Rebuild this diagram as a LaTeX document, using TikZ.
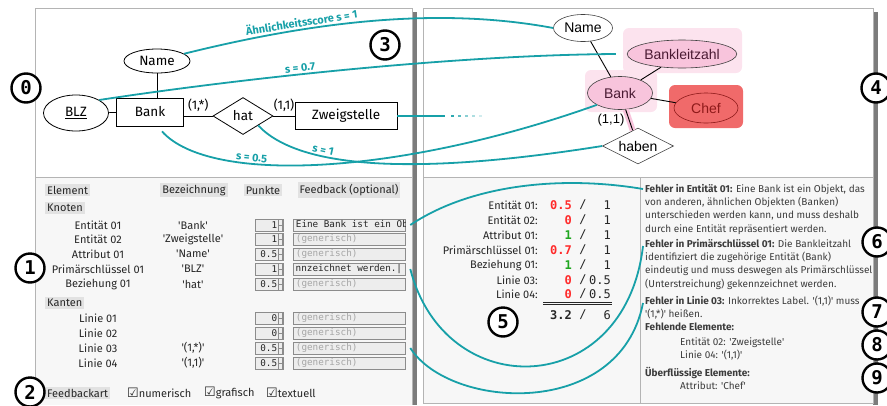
\documentclass[tikz,border=0pt]{standalone}
\usepackage{fontspec}
\setmainfont{Fira Sans}
\setmonofont{DejaVu Sans Mono}
\newfontfamily\arialfont{Liberation Sans}
\newfontfamily\symfont{DejaVu Sans}
\usetikzlibrary{shapes.geometric,positioning}
\definecolor{simteal}{HTML}{17A0A8}
\definecolor{panelgray}{HTML}{B4B4B4}
\definecolor{shadowgray}{HTML}{7C7C7C}
\definecolor{paper}{HTML}{F7F7F7}
\definecolor{hdrgray}{HTML}{E2E2E2}
\definecolor{boxfill}{HTML}{EDEDED}
\definecolor{boxedge}{HTML}{8C8C8C}
\definecolor{gentext}{HTML}{A6A6A6}
\definecolor{textgray}{HTML}{262626}
\definecolor{scorered}{HTML}{FF2B2B}
\definecolor{scoregreen}{HTML}{1FA61F}
\definecolor{pinkfill}{HTML}{F8C4DC}
\definecolor{pinkglow}{HTML}{FCE3EE}
\definecolor{pinktext}{HTML}{4A1A33}
\definecolor{chefred}{HTML}{F06A6A}
\definecolor{chefdark}{HTML}{8E1A1A}
\newcommand{\sq}[1]{\textquotesingle#1\textquotesingle}

\begin{document}
\begin{tikzpicture}[x=1pt,y=-1pt,text=textgray,font=\fontsize{11}{13}\selectfont,
panel/.style={draw=panelgray,line width=.8pt},
ent/.style={draw=black,rectangle,line width=.8pt,minimum height=28,inner sep=3pt,text=black,font=\fontsize{13.5}{15}\selectfont},
attr/.style={draw=black,ellipse,line width=.8pt,inner sep=1pt,text=black,font=\fontsize{13.5}{15}\selectfont},
rel/.style={draw=black,diamond,aspect=1.6,line width=.8pt,inner sep=1pt,text=black,font=\fontsize{13.5}{15}\selectfont},
attrb/.style={draw=black!75,ellipse,line width=.6pt,inner sep=1pt,text=pinktext,font=\arialfont\fontsize{14}{16}\selectfont},
glow/.style={fill=pinkglow,rounded corners=6pt,inner sep=0pt},
sim/.style={draw=simteal,line width=1.8pt},
simlabel/.style={text=simteal,font=\bfseries\fontsize{11}{12}\selectfont,sloped,inner sep=1.5pt},
hdr/.style={fill=hdrgray,inner sep=2pt},
inbox/.style={draw=boxedge,fill=boxfill,line width=.6pt,inner sep=0pt,minimum height=12},
mono/.style={font=\ttfamily\fontsize{9.3}{11}\selectfont,inner sep=1pt},
score/.style={font=\ttfamily\fontsize{12}{14}\selectfont,inner sep=0pt},
txt/.style={anchor=north west,align=left,inner sep=0pt,text=textgray!90,font=\fontsize{10}{13.3}\selectfont},
badge/.style={circle,draw=black,fill=white,line width=2.4pt,minimum size=29,inner sep=0pt,text=black,font=\ttfamily\bfseries\fontsize{19}{19}\selectfont}]
\useasboundingbox (0,0) rectangle (887,405);
% panels
\fill[shadowgray] (412,12) rectangle (417,405);
\fill[shadowgray] (873,12) rectangle (878,405);
\fill[paper] (35,177) rectangle (412,405);
\fill[paper] (423,177) rectangle (873,403);
\draw[panel] (35,405) -- (35,8) -- (412,8) -- (412,405);
\draw[panel] (35,177) -- (412,177);
\draw[panel] (423,8) rectangle (873,403);
\draw[panel] (423,177) -- (873,177) (640,177) -- (640,403);
% student diagram
\node[attr,minimum width=66,minimum height=24] (name) at (157,61) {Name};
\node[attr,minimum width=65,minimum height=36] (blz) at (76,113) {\underline{BLZ}};
\node[ent,minimum width=67] (bank) at (150,112) {Bank};
\node[rel,minimum width=60,minimum height=37] (hat) at (243,116) {hat};
\node[ent,minimum width=102,minimum height=27] (zw) at (346,116) {Zweigstelle};
\draw[line width=.6pt] (name.south) -- (name.south |- bank.north);
\draw[line width=.6pt] (blz) -- (bank);
\draw[line width=.6pt] (hat.west) -- node[above=1pt,text=black,font=\fontsize{12.5}{14}\selectfont] {(1,*)} (hat.west -| bank.east);
\draw[line width=.6pt] (hat.east) -- node[above=1pt,text=black,font=\fontsize{12.5}{14}\selectfont] {(1,1)} (zw.west);
% sample solution
\node[glow,minimum width=119,minimum height=45] (blzglow) at (682.5,50.5) {};
\node[glow,minimum width=72,minimum height=42] (bankglow) at (621,91) {};
\node[fill=chefred,rounded corners=6pt,minimum width=74,minimum height=43] (chefbg) at (706,106.5) {};
\node[attrb,fill=white,text=black,minimum width=59,minimum height=27] (name2) at (583,28) {Name};
\node[attrb,fill=pinkfill,minimum width=108,minimum height=28] (blz2) at (682,54) {Bankleitzahl};
\node[attrb,fill=pinkfill,minimum width=65,minimum height=33] (bank2) at (620,93) {Bank};
\node[attrb,draw=chefdark,text=chefdark,minimum width=64,minimum height=30] (chef) at (706,108) {Chef};
\node[attrb,diamond,aspect=2,text=black,fill=white,minimum width=71,minimum height=36] (haben) at (638,146) {haben};
\draw[line width=.9pt] (name2) -- (bank2);
\draw[line width=.9pt] (blz2) -- (bank2);
\draw[line width=.9pt] (bank2) -- (chef);
\draw[pinkfill,line width=6pt] (bank2) -- (haben);
\draw[line width=.9pt] (bank2) -- node[left=1pt,font=\arialfont\fontsize{13}{15}\selectfont,text=black] {(1,1)} (haben);
% similarity links
\draw[sim] (name.15) .. controls (300,25) and (430,5) .. (name2.west) node[simlabel,pos=.33,above] {Ähnlichkeitsscore s = 1};
\draw[sim] (blz.north east) .. controls (230,80) and (450,55) .. ([xshift=-11pt]blz2.west) node[simlabel,pos=.42,above] {s = 0.7};
\draw[sim] ([xshift=12pt,yshift=-5pt]bank.south) .. controls (210,185) and (400,175) .. (bank2.south west) node[simlabel,pos=.33,above] {s = 0.5};
\draw[sim] (hat.south east) .. controls (300,170) and (420,175) .. (haben.west) node[simlabel,pos=.32,above] {s = 1};
\draw[sim] (zw.east) -- ++(48,0) coordinate (zwend);
\foreach \d/\o in {6/.9,13/.7,20/.5,27/.35,34/.2}{\draw[sim,opacity=\o] ([xshift=\d]zwend) -- ++(2.5,0);}
% rating table
\node[hdr,anchor=west] (hElem) at (45,190) {Element};
\node[hdr] (hBez) at (194,190) {Bezeichnung};
\node[hdr] (hPkt) at (263,190) {Punkte};
\node[hdr] (hFb) at (349,190) {Feedback (optional)};
\node[hdr,anchor=west] (hKnoten) at (45,208) {Knoten};
\node[hdr,anchor=west] (hKanten) at (45,303) {Kanten};
\foreach \i/\el/\bez/\pt/\y in {1/Entität 01/\sq{Bank}/1/225,2/Entität 02/\sq{Zweigstelle}/1/239,3/Attribut 01/\sq{Name}/0.5/254,4/Primärschlüssel 01/\sq{BLZ}/1/269,5/Beziehung 01/\sq{hat}/0.5/284,6/Linie 01//0/318,7/Linie 02//0/333,8/Linie 03/{\sq{(1,*)}}/0.5/348,9/Linie 04/{\sq{(1,1)}}/0.5/363}{
\node (el\i) at (98,\y) {\el};
\node (bez\i) at (193,\y) {\bez};
\node[inbox,minimum width=28] (pt\i) at (269,\y) {};
\node[inbox,minimum width=112] (fb\i) at (349,\y) {};
\node[mono,anchor=east] at ([xshift=-5pt]pt\i.east) {\pt};
\draw[boxedge,line width=.4pt] ([xshift=-5pt]pt\i.north east) rectangle ([xshift=-1pt]pt\i.south east) ([xshift=-5pt]pt\i.east) -- ([xshift=-1pt]pt\i.east);
}
\foreach \i in {2,3,5,6,7,8,9}{\node[mono,text=gentext,anchor=west] at ([xshift=2pt]fb\i.west) {(generisch)};}
\begin{scope}
\clip (fb1.south west) rectangle (fb1.north east);
\node[mono,anchor=west] at ([xshift=2pt]fb1.west) {Eine Bank ist ein Objekt};
\end{scope}
\node[mono,anchor=east] at ([xshift=-2pt]fb4.east) {nnzeichnet werden.|};
\node[hdr,anchor=west] (hArt) at (45,393) {Feedbackart};
\node[anchor=west,inner sep=0pt] (cb1) at (127,393) {{\symfont\fontsize{13}{13}\selectfont ☑}numerisch};
\node[anchor=west,inner sep=0pt] (cb2) at (204,393) {{\symfont\fontsize{13}{13}\selectfont ☑}grafisch};
\node[anchor=west,inner sep=0pt] (cb3) at (266,393) {{\symfont\fontsize{13}{13}\selectfont ☑}textuell};
% scores
\foreach \i/\el/\sc/\col/\mx/\y in {1/Entität 01/0.5/scorered/1/205,2/Entität 02/0/scorered/1/220,3/Attribut 01/1/scoregreen/1/235,4/Primärschlüssel 01/0.7/scorered/1/250,5/Beziehung 01/1/scoregreen/1/265,6/Linie 03/0/scorered/0.5/280,7/Linie 04/0/scorered/0.5/294}{
\node[anchor=east,inner sep=0pt] (sl\i) at (538,\y) {\el:};
\node[score,anchor=east,text=\col,font=\ttfamily\bfseries\fontsize{12}{14}\selectfont] (sc\i) at (572,\y) {\sc};
\node[score] (sd\i) at (583,\y) {/};
\node[score,anchor=east] (sm\i) at (611,\y) {\mx};
}
\draw[textgray,line width=.6pt] (543,302) -- (612,302) (543,304.5) -- (612,304.5);
\node[score,anchor=east,font=\ttfamily\bfseries\fontsize{12}{14}\selectfont] (tot) at (572,315) {3.2};
\node[score] (totd) at (583,315) {/};
\node[score,anchor=east] (totm) at (611,315) {6};
% feedback texts
\node[txt] (err1) at (645,184) {\textbf{Fehler in Entität 01:} Eine Bank ist ein Objekt, das\\von anderen, ähnlichen Objekten (Banken)\\unterschieden werden kann, und muss deshalb\\durch eine Entität repräsentiert werden.};
\node[txt] (err2) at (645,239) {\textbf{Fehler in Primärschlüssel 01:} Die Bankleitzahl\\identifiziert die zugehörige Entität (Bank)\\eindeutig und muss deswegen als Primärschlüssel\\(Unterstreichung) gekennzeichnet werden.};
\node[txt] (err3) at (645,296) {\textbf{Fehler in Linie 03:} Inkorrektes Label. \sq{(1,1)} muss\\\sq{(1,*)} heißen.};
\node[txt] (miss) at (645,323) {\textbf{Fehlende Elemente:}};
\node[txt] (missl) at (680,337) {Entität 02: \sq{Zweigstelle}\\Linie 04: \sq{(1,1)}};
\node[txt] (extra) at (645,367) {\textbf{Überflüssige Elemente:}};
\node[txt] (extral) at (680,381) {Attribut: \sq{Chef}};
\draw[sim] ([xshift=5pt]fb1.east) .. controls (470,185) and (560,175) .. ([xshift=-2pt,yshift=-5pt]err1.north west);
\draw[sim] ([xshift=5pt]fb4.east) .. controls (445,405) and (625,400) .. ([xshift=-2pt,yshift=-7pt]err2.north west);
\draw[sim] ([xshift=5pt]fb8.east) .. controls (450,410) and (620,420) .. ([xshift=-2pt,yshift=-7pt]err3.north west);
% numbered marks
\node[badge] (b0) at (26,88) {0};
\node[badge] (b1) at (30,268) {1};
\node[badge] (b2) at (30,392) {2};
\node[badge] (b3) at (385,45) {3};
\node[badge] (b4) at (876,88) {4};
\node[badge] (b5) at (503,322) {5};
\node[badge] (b6) at (877,242) {6};
\node[badge] (b7) at (877,312) {7};
\node[badge] (b8) at (877,345) {8};
\node[badge] (b9) at (877,378) {9};
\end{tikzpicture}
\end{document}
